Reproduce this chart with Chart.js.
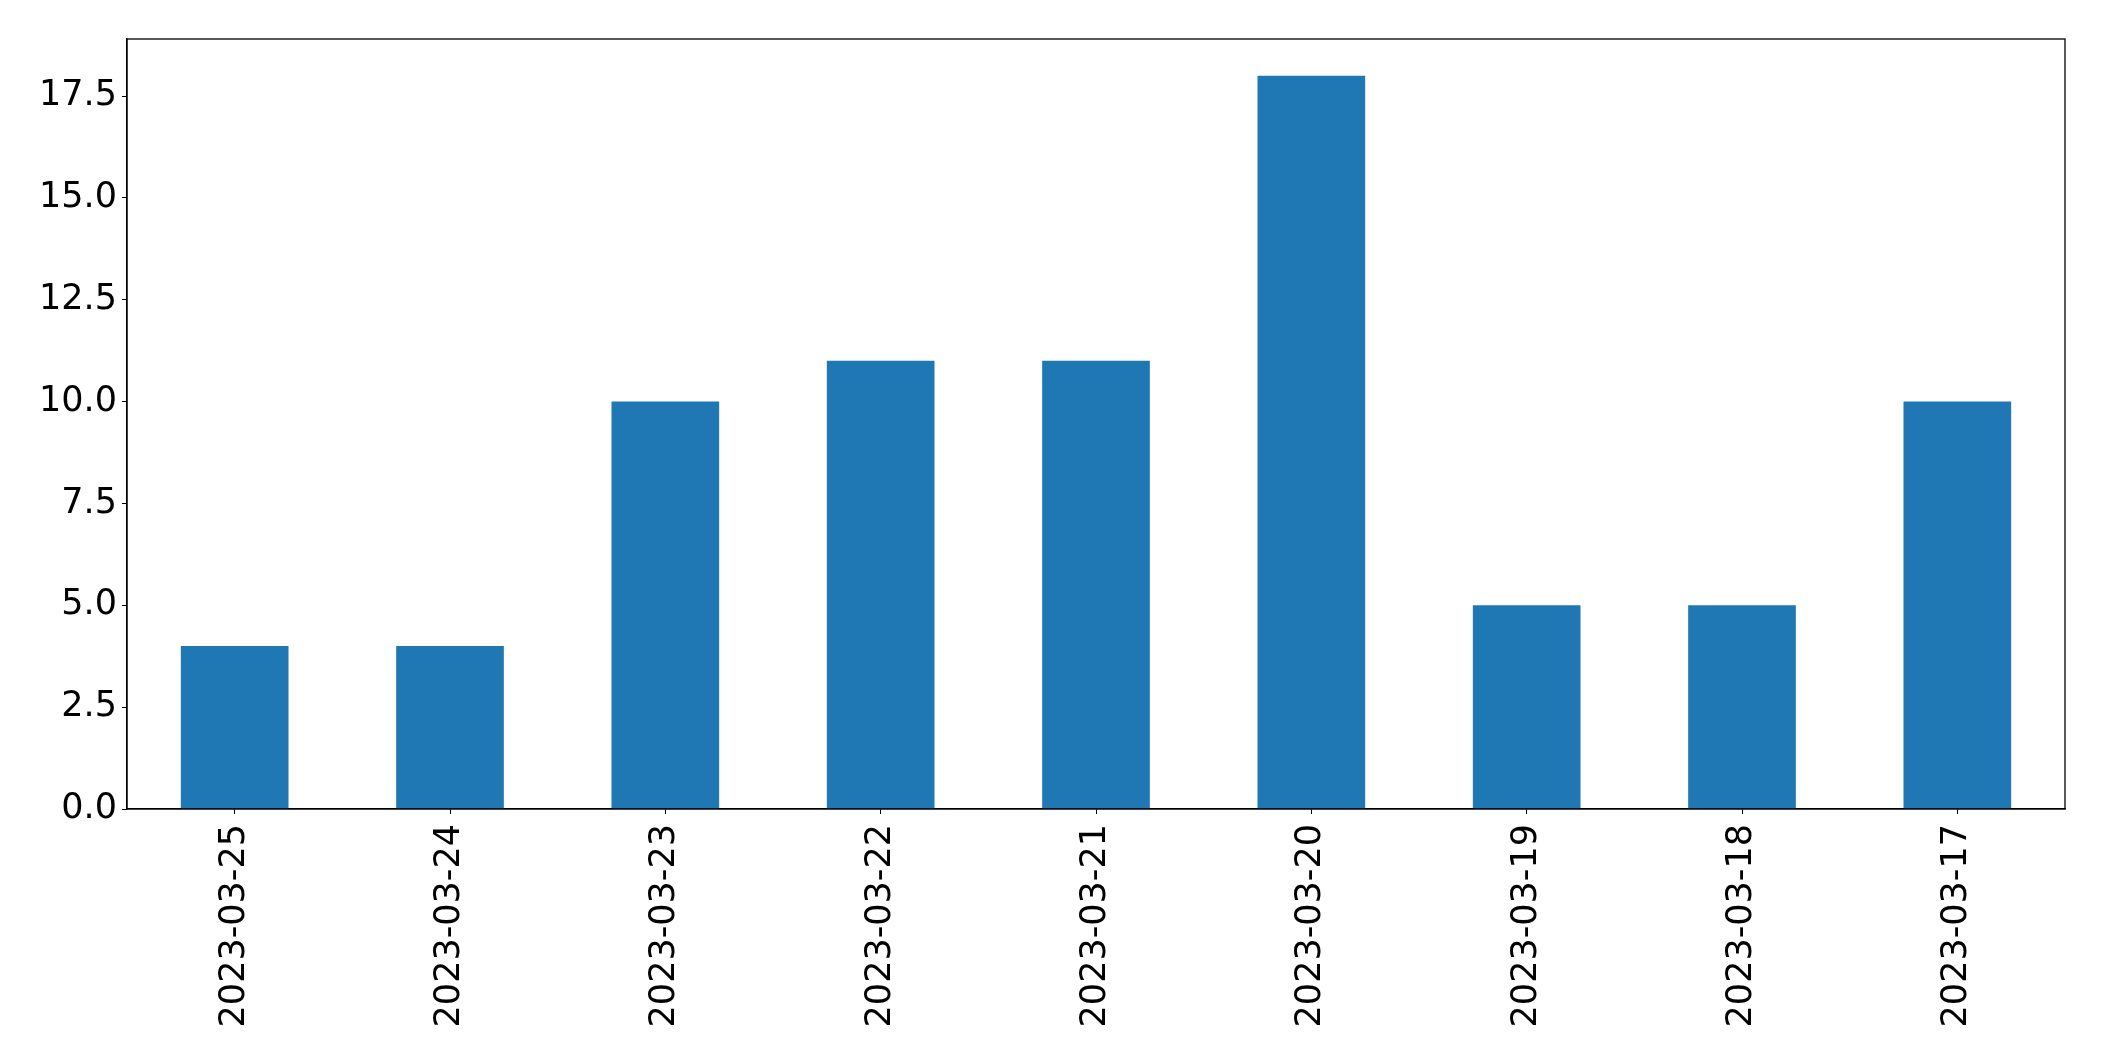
<!DOCTYPE html>
<html>
<head>
<meta charset="utf-8">
<script src="https://cdn.jsdelivr.net/npm/chart.js@4/dist/chart.umd.min.js"></script>
<style>
  html, body { margin: 0; padding: 0; background: #fff; }
  canvas { display: block; }
</style>
</head>
<body>
<canvas id="chart" width="2104" height="1061"></canvas>
<script>
const dates = ["2023-03-25", "2023-03-24", "2023-03-23", "2023-03-22", "2023-03-21",
  "2023-03-20", "2023-03-19", "2023-03-18", "2023-03-17"]
const counts = [4, 4, 10, 11, 11, 18, 5, 5, 10]
const yTicks = [0, 2.5, 5, 7.5, 10, 12.5, 15, 17.5]
const yMax = 18.9

// frame round the plot area, like matplotlib's spines
const frame = {
  id: "frame",
  afterDraw(chart) {
    const { ctx, chartArea: a } = chart
    ctx.save()
    ctx.strokeStyle = "#000"
    ctx.lineWidth = 1.3
    ctx.strokeRect(a.left, a.top, a.right - a.left, a.bottom - a.top)
    ctx.restore()
  }
}

new Chart(document.getElementById("chart"), {
  type: "bar",
  data: {
    labels: dates,
    datasets: [{
      data: counts,
      backgroundColor: "#1f77b4",
      barPercentage: 0.5,
      categoryPercentage: 1
    }]
  },
  options: {
    responsive: false,
    animation: false,
    layout: { padding: { top: 39, right: 39, left: 0, bottom: 0 } },
    plugins: { legend: { display: false }, tooltip: { enabled: false } },
    scales: {
      x: {
        offset: true,
        grid: { display: true, offset: false, drawOnChartArea: false, drawTicks: true, tickLength: 5, color: "#000" },
        border: { display: true, color: "#000", width: 1.3 },
        ticks: {
          minRotation: 90, maxRotation: 90, autoSkip: false, padding: 10,
          color: "#000", font: { family: "DejaVu Sans", size: 35 }
        },
        afterFit(scale) { scale.height = 252 }
      },
      y: {
        min: 0,
        max: yMax,
        grid: { display: true, drawOnChartArea: false, drawTicks: true, tickLength: 5, color: "#000" },
        border: { display: true, color: "#000", width: 1.3 },
        ticks: {
          includeBounds: false, padding: 5,
          color: "#000", font: { family: "DejaVu Sans", size: 35 },
          callback: v => Number(v).toFixed(1)
        },
        afterBuildTicks(scale) { scale.ticks = yTicks.map(v => ({ value: v })) },
        afterFit(scale) { scale.width = 127 }
      }
    }
  },
  plugins: [frame]
})
</script>
</body>
</html>
